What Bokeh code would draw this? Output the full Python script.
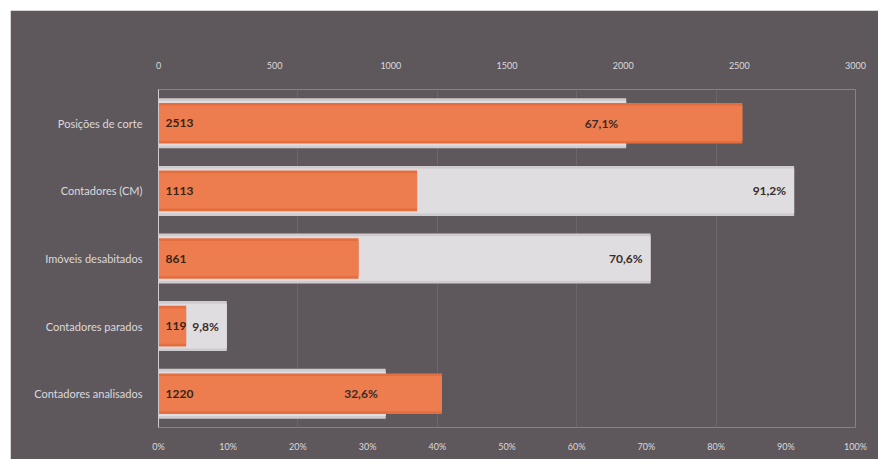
from bokeh.plotting import figure
from bokeh.models import Range1d, LinearAxis, FactorRange, ColumnDataSource, PrintfTickFormatter, FixedTicker, Spacer
from bokeh.layouts import row, column
from bokeh.core.properties import value
from bokeh.embed import file_html
from bokeh.resources import INLINE

categories = ["Posições de corte", "Contadores (CM)", "Imóveis desabitados", "Contadores parados", "Contadores analisados"]
counts = [2513, 1113, 861, 119, 1220]
percents = [67.1, 91.2, 70.6, 9.8, 32.6]
count_ticks = [0, 500, 1000, 1500, 2000, 2500, 3000]
pct_ticks = [0, 10, 20, 30, 40, 50, 60, 70, 80, 90, 100]

pct_labels = [f"{v:.1f}".replace(".", ",") + "%" for v in percents]
count_labels = [str(c) for c in counts]

src = ColumnDataSource(dict(cat=categories, cnt=counts, pct=percents,
                            pl=pct_labels, cl=count_labels, zero=[0] * len(categories)))

BG = "#5e585d"
FONT = "Lato"

p = figure(width=868, height=449, output_backend="svg", toolbar_location=None,
           y_range=FactorRange(*reversed(categories)), x_range=Range1d(0, 100),
           x_axis_location=None,
           min_border_left=148, min_border_right=23, min_border_top=79, min_border_bottom=32,
           background_fill_color=BG, border_fill_color=BG, outline_line_color=None)
p.extra_x_ranges = {"counts": Range1d(0, 3000)}

# grey percentage bars
p.hbar(y="cat", left=0, right="pct", height=0.74, source=src, fill_color="#cfcbcf", line_color=None)
p.hbar(y="cat", left=0, right="pct", height=0.66, source=src, fill_color="#e0dde0", line_color=None)
# orange count bars
p.hbar(y="cat", left=0, right="cnt", height=0.6, source=src, x_range_name="counts",
       fill_color="#e46e3e", line_color=None)
p.hbar(y="cat", left=0, right="cnt", height=0.52, source=src, x_range_name="counts",
       fill_color="#ed7d4e", line_color=None)

p.text(x="zero", y="cat", text="cl", source=src, x_offset=7, text_align="left", text_baseline="middle",
       text_font=value(FONT), text_font_style="bold", text_font_size="12px", text_color="#3a2418")
p.text(x="pct", y="cat", text="pl", source=src, x_offset=-8, text_align="right", text_baseline="middle",
       text_font=value(FONT), text_font_style="bold", text_font_size="12px", text_color="#3a2c28")

# axes
bottom = LinearAxis(ticker=FixedTicker(ticks=pct_ticks), formatter=PrintfTickFormatter(format="%d%%"))
top = LinearAxis(x_range_name="counts", ticker=FixedTicker(ticks=count_ticks))
p.add_layout(bottom, "below")
p.add_layout(top, "above")

for ax in [bottom, top]:
    ax.axis_line_color = None
    ax.major_tick_line_color = None
    ax.minor_tick_line_color = None
    ax.major_label_text_color = "#dcd8dc"
    ax.major_label_text_font = FONT
    ax.major_label_text_font_size = "9px"
bottom.major_label_standoff = 7
top.major_label_standoff = 15

p.yaxis.axis_line_color = "#cfcacf"
p.yaxis.major_tick_line_color = None
p.yaxis.minor_tick_line_color = None
p.yaxis.major_label_standoff = 10
p.yaxis.major_label_text_color = "#dcd8dc"
p.yaxis.major_label_text_font = FONT
p.yaxis.major_label_text_font_size = "11px"

p.xgrid.grid_line_color = "#6c666b"
p.ygrid.grid_line_color = None

layout = row(Spacer(width=10), column(Spacer(height=10), p, spacing=0), spacing=0)

open("out.html", "w").write(file_html(layout, INLINE))
